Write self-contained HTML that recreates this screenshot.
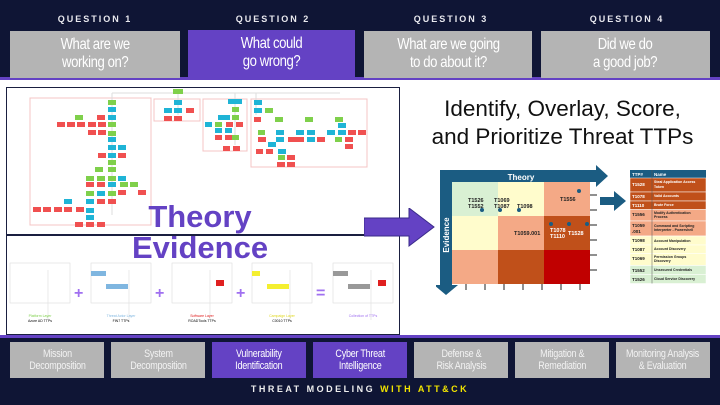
<!DOCTYPE html>
<html><head><meta charset="utf-8"><style>
*{margin:0;padding:0;box-sizing:border-box}
body{width:720px;height:405px;position:relative;overflow:hidden;background:#fff;font-family:"Liberation Sans",sans-serif}
.a{position:absolute}
.q{position:absolute;top:14px;width:170px;text-align:center;color:#e8e8ee;font-size:9px;font-weight:bold;letter-spacing:2px}
.qb{position:absolute;top:31px;height:47px;background:#b4b4b4;color:#fff;text-align:center;font-size:16px;line-height:18px;padding-top:5px;letter-spacing:-0.5px}
.qb span,.bb span{display:inline-block;transform:scaleX(0.82)}
.bb{position:absolute;top:342px;height:36px;width:68px;background:#b4b4b4;color:#f2f2f2;text-align:center;font-size:11px;line-height:12px;padding-top:6px;letter-spacing:-0.3px;white-space:nowrap}
.p{background:#6442c4}
</style></head><body>
<div class="a" style="left:0;top:0;width:720px;height:79px;background:#0f1535"></div>
<div class="a" style="left:0;top:77px;width:720px;height:3px;background:#6442c4"></div>
<div class="q" style="left:10px">QUESTION 1</div>
<div class="q" style="left:188px">QUESTION 2</div>
<div class="q" style="left:366px">QUESTION 3</div>
<div class="q" style="left:542px">QUESTION 4</div>
<div class="qb" style="left:10px;width:170px"><span>What are we<br>working on?</span></div>
<div class="qb p" style="left:188px;width:167px;top:30px"><span>What could<br>go wrong?</span></div>
<div class="qb" style="left:364px;width:168px"><span>What are we going<br>to do about it?</span></div>
<div class="qb" style="left:541px;width:169px"><span>Did we do<br>a good job?</span></div>

<div class="a" style="left:0;top:335px;width:720px;height:70px;background:#0f1535"></div>
<div class="a" style="left:0;top:335px;width:720px;height:3px;background:#6442c4"></div>
<div class="bb" style="left:10px;width:94px"><span>Mission<br>Decomposition</span></div>
<div class="bb" style="left:111px;width:94px"><span>System<br>Decomposition</span></div>
<div class="bb p" style="left:212px;width:94px;color:#fff"><span>Vulnerability<br>Identification</span></div>
<div class="bb p" style="left:313px;width:94px;color:#fff"><span>Cyber Threat<br>Intelligence</span></div>
<div class="bb" style="left:414px;width:94px"><span>Defense &amp;<br>Risk Analysis</span></div>
<div class="bb" style="left:515px;width:94px"><span>Mitigation &amp;<br>Remediation</span></div>
<div class="bb" style="left:616px;width:94px"><span>Monitoring Analysis<br>&amp; Evaluation</span></div>
<div class="a" style="left:0;top:384px;width:720px;text-align:center;color:#eee;font-size:9px;font-weight:bold;letter-spacing:2.5px">THREAT MODELING <span style="color:#f2e400">WITH ATT&amp;CK</span></div>

<!-- left box -->
<div class="a" style="left:6px;top:87px;width:394px;height:248px;border:1.5px solid #1a1f40"></div>
<div class="a" style="left:6px;top:234px;width:394px;height:1.5px;background:#1a1f40"></div>
<svg class="a" style="left:0;top:85px" width="400" height="165">
<g fill="none" stroke="#f4c4c4" stroke-width="1">
<rect x="30" y="13" width="121" height="127"/><rect x="154" y="14" width="46" height="22"/><rect x="203" y="14" width="44" height="52"/><rect x="251" y="14" width="116" height="68"/></g>
<g stroke="#ddd" stroke-width="1"><line x1="112" y1="8" x2="340" y2="8"/><line x1="112" y1="8" x2="112" y2="130"/><line x1="178" y1="8" x2="178" y2="30"/><line x1="235" y1="8" x2="235" y2="60"/><line x1="256" y1="8" x2="256" y2="30"/></g>
<g fill="#7fd04b"><rect x="173" y="4" width="10" height="5"/><rect x="108" y="15" width="8" height="5"/><rect x="75" y="30" width="8" height="5"/><rect x="108" y="37" width="8" height="5"/><rect x="108" y="46" width="8" height="5"/><rect x="108" y="75" width="8" height="5"/><rect x="95" y="82" width="8" height="5"/><rect x="108" y="82" width="8" height="5"/><rect x="86" y="91" width="8" height="5"/><rect x="97" y="91" width="8" height="5"/><rect x="108" y="91" width="8" height="5"/><rect x="86" y="106" width="8" height="5"/><rect x="108" y="106" width="8" height="5"/><rect x="232" y="22" width="7" height="5"/><rect x="232" y="30" width="7" height="5"/><rect x="215" y="37" width="7" height="5"/><rect x="232" y="50" width="7" height="5"/><rect x="265" y="23" width="8" height="5"/><rect x="275" y="32" width="8" height="5"/><rect x="305" y="32" width="8" height="5"/><rect x="335" y="32" width="8" height="5"/><rect x="278" y="70" width="7" height="5"/><rect x="335" y="52" width="7" height="5"/><rect x="258" y="45" width="7" height="5"/><rect x="120" y="97" width="8" height="5"/><rect x="130" y="97" width="8" height="5"/></g>
<g fill="#1fb4d6"><rect x="108" y="22" width="8" height="5"/><rect x="108" y="30" width="8" height="5"/><rect x="108" y="52" width="8" height="5"/><rect x="108" y="60" width="8" height="5"/><rect x="118" y="60" width="8" height="5"/><rect x="108" y="68" width="8" height="5"/><rect x="118" y="91" width="8" height="5"/><rect x="108" y="97" width="8" height="5"/><rect x="97" y="106" width="8" height="5"/><rect x="64" y="114" width="8" height="5"/><rect x="86" y="114" width="8" height="5"/><rect x="86" y="123" width="8" height="5"/><rect x="86" y="130" width="8" height="5"/><rect x="174" y="15" width="8" height="5"/><rect x="164" y="23" width="8" height="5"/><rect x="174" y="23" width="8" height="5"/><rect x="228" y="14" width="14" height="5"/><rect x="218" y="30" width="12" height="5"/><rect x="205" y="37" width="7" height="5"/><rect x="215" y="43" width="7" height="5"/><rect x="225" y="43" width="7" height="5"/><rect x="254" y="15" width="8" height="5"/><rect x="254" y="23" width="8" height="5"/><rect x="276" y="45" width="8" height="5"/><rect x="276" y="52" width="8" height="5"/><rect x="296" y="45" width="8" height="5"/><rect x="307" y="45" width="8" height="5"/><rect x="307" y="52" width="8" height="5"/><rect x="327" y="45" width="8" height="5"/><rect x="338" y="38" width="8" height="5"/><rect x="338" y="45" width="8" height="5"/><rect x="268" y="57" width="8" height="5"/><rect x="278" y="64" width="8" height="5"/></g>
<g fill="#f05050"><rect x="57" y="37" width="8" height="5"/><rect x="67" y="37" width="8" height="5"/><rect x="77" y="37" width="8" height="5"/><rect x="97" y="30" width="8" height="5"/><rect x="88" y="37" width="8" height="5"/><rect x="98" y="37" width="8" height="5"/><rect x="88" y="45" width="8" height="5"/><rect x="98" y="45" width="8" height="5"/><rect x="98" y="68" width="8" height="5"/><rect x="118" y="68" width="8" height="5"/><rect x="86" y="97" width="8" height="5"/><rect x="97" y="97" width="8" height="5"/><rect x="118" y="105" width="8" height="5"/><rect x="138" y="105" width="8" height="5"/><rect x="97" y="114" width="8" height="5"/><rect x="108" y="114" width="8" height="5"/><rect x="33" y="122" width="8" height="5"/><rect x="43" y="122" width="8" height="5"/><rect x="54" y="122" width="8" height="5"/><rect x="64" y="122" width="8" height="5"/><rect x="76" y="122" width="8" height="5"/><rect x="75" y="137" width="8" height="5"/><rect x="86" y="137" width="8" height="5"/><rect x="97" y="137" width="8" height="5"/><rect x="186" y="23" width="8" height="5"/><rect x="164" y="31" width="8" height="5"/><rect x="174" y="31" width="8" height="5"/><rect x="226" y="37" width="7" height="5"/><rect x="236" y="37" width="7" height="5"/><rect x="215" y="50" width="7" height="5"/><rect x="225" y="50" width="7" height="5"/><rect x="223" y="61" width="7" height="5"/><rect x="233" y="61" width="7" height="5"/><rect x="254" y="32" width="7" height="5"/><rect x="258" y="52" width="8" height="5"/><rect x="288" y="52" width="8" height="5"/><rect x="317" y="52" width="8" height="5"/><rect x="348" y="45" width="8" height="5"/><rect x="358" y="45" width="8" height="5"/><rect x="345" y="52" width="8" height="5"/><rect x="345" y="59" width="8" height="5"/><rect x="296" y="52" width="8" height="5"/><rect x="256" y="64" width="7" height="5"/><rect x="266" y="64" width="7" height="5"/><rect x="287" y="70" width="8" height="5"/><rect x="277" y="77" width="8" height="5"/><rect x="287" y="77" width="8" height="5"/></g>
</svg>
<div class="a" style="left:0;top:200px;width:400px;text-align:center;color:#6442c4;font-size:31px;font-weight:bold;line-height:34px">Theory</div>
<div class="a" style="left:0;top:231px;width:400px;text-align:center;color:#6442c4;font-size:31px;font-weight:bold;line-height:34px">Evidence</div>
<svg class="a" style="left:0;top:260px" width="400" height="70" font-family="Liberation Sans" font-size="3.5">
<g fill="none" stroke="#ddd" stroke-width="0.6">
<rect x="10" y="3" width="60" height="40"/><rect x="91" y="3" width="60" height="40"/><rect x="172" y="3" width="60" height="40"/><rect x="252" y="3" width="60" height="40"/><rect x="333" y="3" width="60" height="40"/>
<line x1="48" y1="10" x2="48" y2="60"/><line x1="129" y1="10" x2="129" y2="60"/><line x1="210" y1="10" x2="210" y2="60"/><line x1="290" y1="10" x2="290" y2="60"/><line x1="371" y1="10" x2="371" y2="60"/></g>
<rect x="91" y="11" width="15" height="5" fill="#7fb6e0"/><rect x="106" y="24" width="22" height="5" fill="#7fb6e0"/>
<rect x="216" y="20" width="8" height="6" fill="#e02020"/>
<rect x="252" y="11" width="8" height="5" fill="#f4ef30"/><rect x="267" y="24" width="22" height="5" fill="#f4ef30"/>
<rect x="333" y="11" width="15" height="5" fill="#999"/><rect x="348" y="24" width="22" height="5" fill="#999"/><rect x="378" y="20" width="8" height="6" fill="#e02020"/>
<g fill="#a070f0" font-size="16" font-weight="bold"><text x="74" y="38">+</text><text x="155" y="38">+</text><text x="236" y="38">+</text><text x="316" y="38">=</text></g>
<g text-anchor="middle"><text x="40" y="57" fill="#7fd04b">Platform Layer</text><text x="40" y="62">Azure AD TTPs</text>
<text x="121" y="57" fill="#7fb6e0">Threat Actor Layer</text><text x="121" y="62">FIN7 TTPs</text>
<text x="202" y="57" fill="#e02020">Software Layer</text><text x="202" y="62">ROADTools TTPs</text>
<text x="282" y="57" fill="#e0d820">Campaign Layer</text><text x="282" y="62">C0010 TTPs</text>
<text x="363" y="57" fill="#a070f0">Collection of TTPs</text></g>
</svg>

<svg class="a" style="left:364px;top:208px" width="72" height="40"><polygon points="0,10 45,10 45,0 70,19 45,38 45,28 0,28" fill="#6442c4" stroke="#3a2a8a" stroke-width="1"/></svg>

<div class="a" style="left:405px;top:95px;width:315px;text-align:center;font-size:22.5px;line-height:28px;color:#111">Identify, Overlay, Score,<br>and Prioritize Threat TTPs</div>

<svg class="a" style="left:436px;top:165px" width="285" height="135" font-family="Liberation Sans" font-weight="bold">
<polygon points="4,5 160,5 160,0 172,11 160,22 160,17 16,17 16,120 22,120 10,130 -2,120 4,120" fill="#1b5c82"/>
<text x="85" y="15" fill="#fff" font-size="8" text-anchor="middle">Theory</text>
<text transform="translate(13,70) rotate(-90)" fill="#fff" font-size="8" text-anchor="middle">Evidence</text>
<rect x="16" y="17" width="46" height="34" fill="#d9f0d3"/><rect x="62" y="17" width="46" height="34" fill="#fffccc"/><rect x="108" y="17" width="46" height="34" fill="#f4a986"/>
<rect x="16" y="51" width="46" height="34" fill="#fffccc"/><rect x="62" y="51" width="46" height="34" fill="#f4a986"/><rect x="108" y="51" width="46" height="34" fill="#c0501a"/>
<rect x="16" y="85" width="46" height="34" fill="#f4a986"/><rect x="62" y="85" width="46" height="34" fill="#c0501a"/><rect x="108" y="85" width="46" height="34" fill="#c00000"/>
<g stroke="#222" stroke-width="1"><line x1="154" y1="30" x2="161" y2="30"/><line x1="154" y1="45" x2="161" y2="45"/><line x1="154" y1="60" x2="161" y2="60"/><line x1="154" y1="75" x2="161" y2="75"/><line x1="154" y1="90" x2="161" y2="90"/><line x1="154" y1="105" x2="161" y2="105"/>
<line x1="30" y1="119" x2="30" y2="125"/><line x1="49" y1="119" x2="49" y2="125"/><line x1="68" y1="119" x2="68" y2="125"/><line x1="87" y1="119" x2="87" y2="125"/><line x1="106" y1="119" x2="106" y2="125"/><line x1="125" y1="119" x2="125" y2="125"/><line x1="144" y1="119" x2="144" y2="125"/></g>
<g fill="#1b5c82"><circle cx="46" cy="45" r="2"/><circle cx="64" cy="45" r="2"/><circle cx="83" cy="45" r="2"/><circle cx="143" cy="26" r="2"/><circle cx="115" cy="59" r="2"/><circle cx="133" cy="59" r="2"/><circle cx="151" cy="59" r="2"/></g>
<g font-size="5.5" fill="#222"><text x="32" y="37">T1526</text><text x="32" y="43">T1552</text><text x="58" y="37">T1069</text><text x="58" y="43">T1087</text><text x="81" y="43">T1098</text><text x="124" y="36">T1556</text><text x="78" y="70">T1059.001</text></g>
<g font-size="5.5" fill="#fff"><text x="114" y="67">T1078</text><text x="114" y="73">T1110</text><text x="132" y="70">T1528</text></g>
</svg>
<svg class="a" style="left:600px;top:191px" width="28" height="22"><polygon points="0,6 14,6 14,0 26,10 14,20 14,14 0,14" fill="#1b5c82"/></svg>

<svg class="a" style="left:630px;top:170px" width="78" height="116" font-family="Liberation Sans" font-weight="bold" font-size="4.5">
<rect x="0" y="0" width="76" height="8" fill="#1b5c82"/>
<text x="2" y="6" fill="#fff">TTP#</text><text x="24" y="6" fill="#fff">Name</text>
<g stroke="#fff" stroke-width="0.5">
<rect x="0" y="8" width="76" height="14" fill="#c0501a"/><rect x="0" y="22" width="76" height="9" fill="#c0501a"/><rect x="0" y="31" width="76" height="8.5" fill="#c0501a"/>
<rect x="0" y="39.5" width="76" height="11.5" fill="#f4a986"/><rect x="0" y="51" width="76" height="15" fill="#f4a986"/>
<rect x="0" y="66" width="76" height="9" fill="#fffccc"/><rect x="0" y="75" width="76" height="8.5" fill="#fffccc"/><rect x="0" y="83.5" width="76" height="12" fill="#fffccc"/>
<rect x="0" y="95.5" width="76" height="9" fill="#d9f0d3"/><rect x="0" y="104.5" width="76" height="9" fill="#d9f0d3"/></g>
<line x1="22" y1="0" x2="22" y2="113.5" stroke="#555" stroke-width="0.5"/>
<g fill="#fff"><text x="2" y="16">T1528</text><text x="24" y="13" font-size="3.5">Steal Application Access</text><text x="24" y="18" font-size="3.5">Token</text>
<text x="2" y="28">T1078</text><text x="24" y="27" font-size="3.5">Valid Accounts</text><text x="2" y="37">T1110</text><text x="24" y="36" font-size="3.5">Brute Force</text></g>
<g fill="#222"><text x="2" y="46">T1556</text><text x="24" y="44" font-size="3.5">Modify Authentication</text><text x="24" y="48" font-size="3.5">Process</text>
<text x="2" y="57">T1059</text><text x="2" y="63">.001</text><text x="24" y="57" font-size="3.5">Command and Scripting</text><text x="24" y="61" font-size="3.5">Interpreter - Powershell</text>
<text x="2" y="72">T1098</text><text x="24" y="72" font-size="3.5">Account Manipulation</text>
<text x="2" y="81">T1087</text><text x="24" y="80" font-size="3.5">Account Discovery</text>
<text x="2" y="90">T1069</text><text x="24" y="88" font-size="3.5">Permission Groups</text><text x="24" y="92" font-size="3.5">Discovery</text>
<text x="2" y="102">T1552</text><text x="24" y="101" font-size="3.5">Unsecured Credentials</text>
<text x="2" y="111">T1526</text><text x="24" y="110" font-size="3.5">Cloud Service Discovery</text></g>
</svg>
</body></html>
